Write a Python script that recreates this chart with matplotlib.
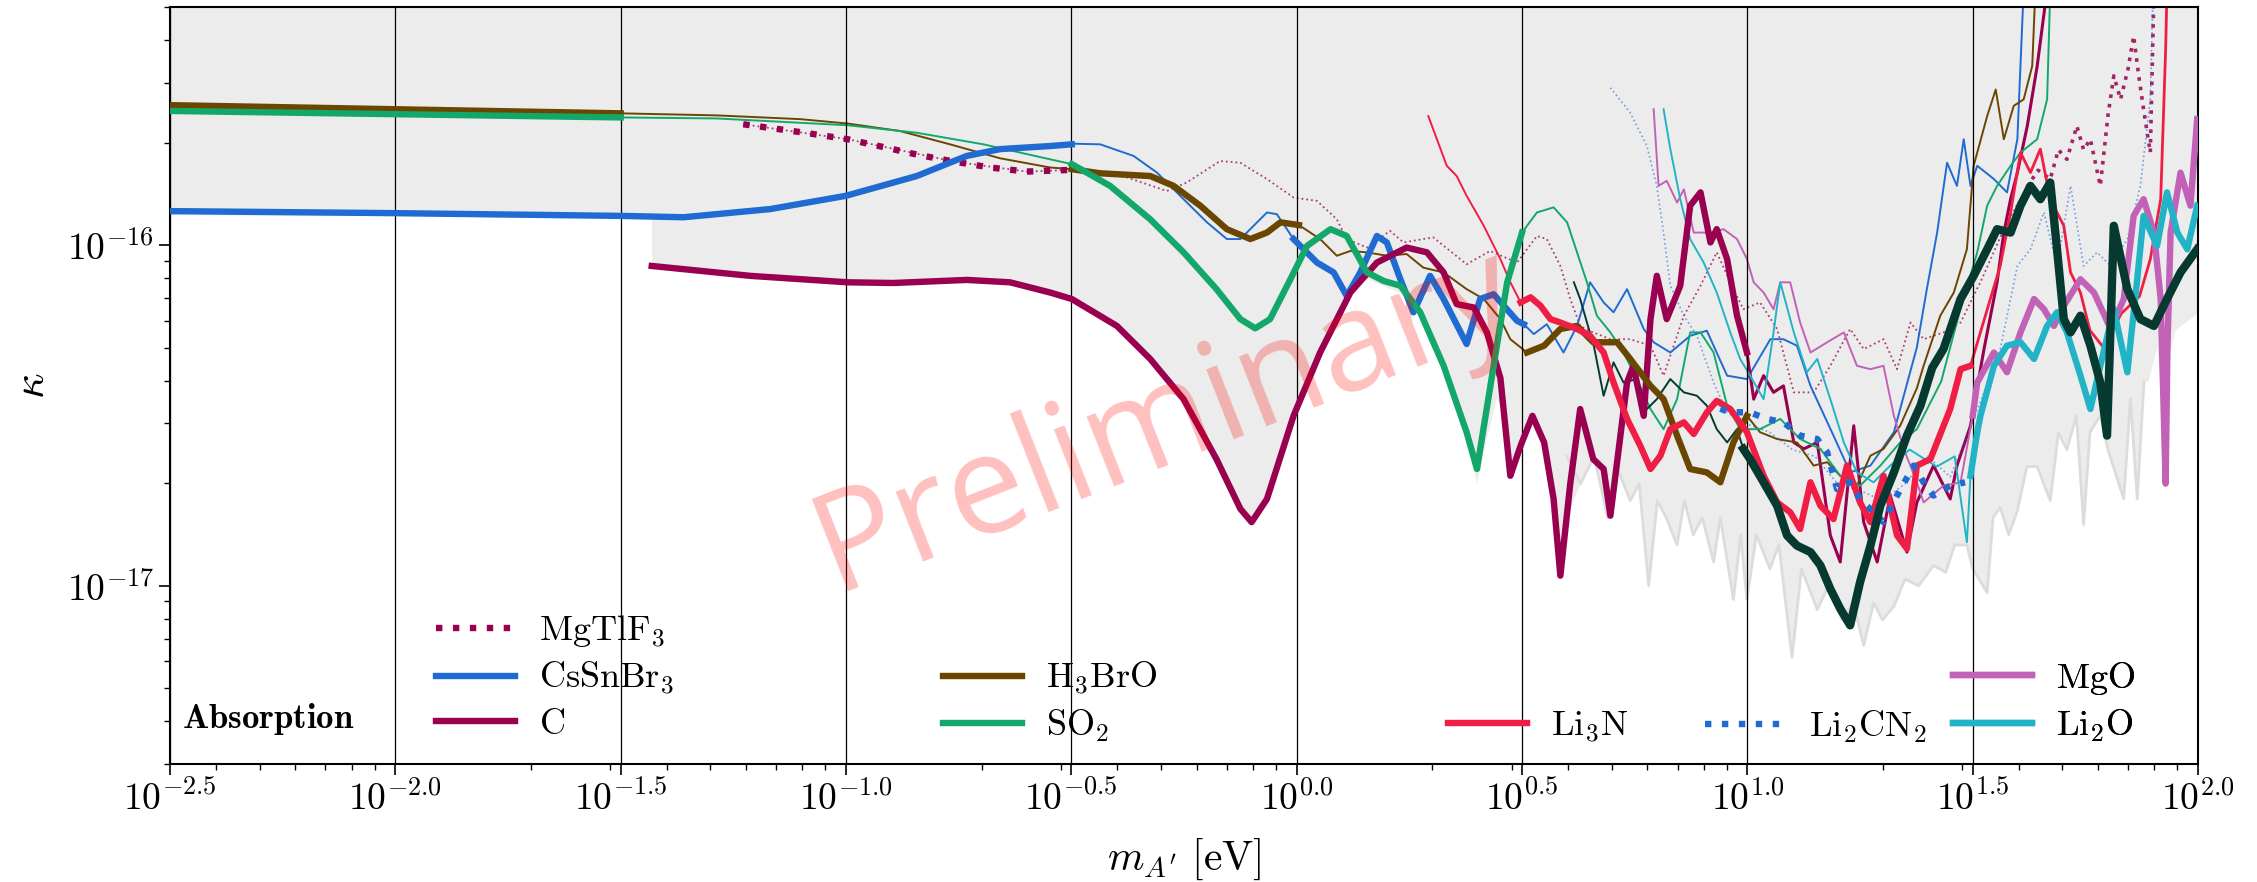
import numpy as np
import matplotlib
matplotlib.use("Agg")
import matplotlib.pyplot as plt
from matplotlib.ticker import NullFormatter

plt.rcParams['mathtext.fontset'] = 'cm'
plt.rcParams['font.family'] = 'serif'
plt.rcParams['font.serif'] = ['cmr10']
plt.rcParams['axes.formatter.use_mathtext'] = True
plt.rcParams['axes.unicode_minus'] = False

# all values are log10(m / eV) and log10(kappa)

# CsSnBr3
cs_a_lm = [-2.5, -2.0, -1.5, -1.36, -1.168, -1.0, -0.843, -0.732, -0.658, -0.547, -0.499]
cs_a_lk = [-15.900, -15.906, -15.914, -15.918, -15.894, -15.855, -15.797, -15.738, -15.718, -15.709, -15.704]
cs_b_lm = [-0.499, -0.436, -0.362, -0.310, -0.251, -0.199, -0.155, -0.125, -0.066, -0.044, -0.007]
cs_b_lk = [-15.702, -15.704, -15.738, -15.787, -15.865, -15.933, -15.982, -15.982, -15.904, -15.909, -15.982]
cs_c_lm = [-0.007, 0.045, 0.082, 0.111, 0.141, 0.178, 0.200, 0.230, 0.259, 0.296, 0.326, 0.377, 0.407,
           0.437, 0.489, 0.504]
cs_c_lk = [-15.982, -16.051, -16.080, -16.149, -16.080, -15.973, -15.992, -16.100, -16.197, -16.090, -16.158,
           -16.290, -16.158, -16.144, -16.222, -16.232]
cs_d_lm = [0.504, 0.526, 0.555, 0.592, 0.622, 0.651, 0.681, 0.703, 0.733, 0.770, 0.792, 0.829, 0.873, 0.910,
           0.955, 0.999, 1.051, 1.080, 1.110, 1.140, 1.191, 1.228, 1.273, 1.325, 1.376, 1.398, 1.421, 1.443,
           1.465, 1.480, 1.495, 1.510, 1.547, 1.576, 1.599, 1.613]
cs_d_lk = [-16.232, -16.261, -16.232, -16.315, -16.237, -16.109, -16.168, -16.197, -16.129, -16.246, -16.285,
           -16.315, -16.266, -16.251, -16.383, -16.393, -16.276, -16.276, -16.295, -16.413, -16.559, -16.667,
           -16.647, -16.549, -16.300, -16.130, -15.963, -15.758, -15.826, -15.689, -15.826, -15.767, -15.806,
           -15.845, -15.689, -15.25]

# C
c_a_lm = [-1.431, -1.213, -0.996, -0.895, -0.732, -0.636, -0.547, -0.499, -0.399, -0.325, -0.251, -0.178,
          -0.125, -0.100, -0.066, -0.007, 0.052, 0.119, 0.178, 0.244, 0.289, 0.326, 0.355, 0.393, 0.422,
          0.452, 0.474, 0.497, 0.523, 0.549, 0.570, 0.585, 0.607, 0.629, 0.658, 0.681, 0.696, 0.733, 0.747,
          0.770, 0.785, 0.799, 0.821, 0.851, 0.873, 0.896, 0.918, 0.932, 0.955, 0.977, 0.999]
c_a_lk = [-16.061, -16.090, -16.109, -16.111, -16.102, -16.109, -16.139, -16.158, -16.237, -16.334, -16.452,
          -16.628, -16.774, -16.813, -16.745, -16.501, -16.315, -16.139, -16.051, -16.007, -16.021, -16.080,
          -16.173, -16.183, -16.256, -16.390, -16.677, -16.588, -16.501, -16.579, -16.745, -16.970, -16.700,
          -16.481, -16.628, -16.657, -16.794, -16.403, -16.354, -16.501, -16.217, -16.090, -16.217, -16.119,
          -15.884, -15.845, -15.992, -15.953, -16.041, -16.207, -16.315]
c_b_lm = [0.999, 1.014, 1.036, 1.058, 1.080, 1.103, 1.125, 1.155, 1.184, 1.206, 1.236, 1.258, 1.288, 1.317,
          1.354, 1.376, 1.413, 1.450, 1.465, 1.495, 1.525, 1.554, 1.569, 1.584, 1.599, 1.621, 1.643, 1.665]
c_b_lk = [-16.315, -16.452, -16.383, -16.432, -16.413, -16.579, -16.598, -16.579, -16.852, -16.930, -16.530,
          -16.813, -16.930, -16.735, -16.901, -16.755, -16.647, -16.745, -16.647, -16.530, -16.305, -16.109,
          -15.963, -15.865, -15.787, -15.650, -15.474, -15.25]

# MgTlF3
mg_a_lm = [-1.228, -1.102, -0.996, -0.917, -0.836, -0.754, -0.680, -0.599, -0.562, -0.499]
mg_a_lk = [-15.645, -15.668, -15.689, -15.712, -15.736, -15.756, -15.772, -15.784, -15.782, -15.779]
mg_b_lm = [-1.228, -0.996, -0.754, -0.599, -0.499, -0.377, -0.288, -0.244, -0.170, -0.125, -0.066, -0.007,
           0.045, 0.089, 0.111, 0.156, 0.207, 0.237, 0.303, 0.377, 0.429, 0.489, 0.533, 0.555, 0.585, 0.607,
           0.629, 0.658, 0.696, 0.740, 0.785, 0.814, 0.859, 0.896, 0.932, 0.969, 0.991, 1.028, 1.066, 1.103,
           1.147, 1.184, 1.228, 1.258, 1.302, 1.332, 1.362, 1.391, 1.435, 1.473, 1.52, 1.57, 1.62]
mg_b_lk = [-15.645, -15.689, -15.756, -15.784, -15.779, -15.801, -15.841, -15.816, -15.753, -15.758, -15.806,
           -15.860, -15.870, -15.924, -15.982, -16.007, -15.958, -15.992, -15.977, -16.056, -16.017, -16.051,
           -15.973, -15.982, -16.061, -16.158, -16.237, -16.256, -16.276, -16.276, -16.295, -16.383, -16.207,
           -16.119, -16.021, -16.129, -16.188, -16.168, -16.246, -16.432, -16.432, -16.354, -16.246, -16.305,
           -16.276, -16.364, -16.227, -16.276, -16.256, -16.227, -16.10, -15.95, -15.83]
mg_c_lm = [1.62, 1.645, 1.672, 1.69, 1.709, 1.731, 1.746, 1.761, 1.783, 1.80, 1.813, 1.828, 1.845, 1.857,
           1.868, 1.879, 1.894, 1.902]
mg_c_lk = [-15.83, -15.78, -15.806, -15.72, -15.748, -15.650, -15.72, -15.689, -15.826, -15.62, -15.503,
           -15.572, -15.48, -15.386, -15.50, -15.601, -15.728, -15.25]

# H3BrO
hb_a_lm = [-2.5, -1.5]
hb_a_lk = [-15.589, -15.613]
hb_b_lm = [-1.5, -1.287, -1.102, -0.996, -0.880, -0.769, -0.658, -0.547, -0.499]
hb_b_lk = [-15.613, -15.619, -15.630, -15.643, -15.665, -15.704, -15.745, -15.772, -15.777]
hb_c_lm = [-0.499, -0.436, -0.325, -0.273, -0.214, -0.155, -0.103, -0.066, -0.036, 0.005]
hb_c_lk = [-15.777, -15.789, -15.797, -15.826, -15.884, -15.953, -15.982, -15.963, -15.933, -15.941]
hb_d_lm = [0.005, 0.052, 0.089, 0.119, 0.156, 0.200, 0.244, 0.281, 0.326, 0.377, 0.415, 0.452, 0.474, 0.511]
hb_d_lk = [-15.941, -15.982, -16.031, -16.017, -16.021, -16.031, -16.026, -16.066, -16.080, -16.129, -16.158,
           -16.217, -16.276, -16.315]
hb_e_lm = [0.511, 0.549, 0.585, 0.622, 0.658, 0.711, 0.740, 0.785, 0.814, 0.844, 0.873, 0.910, 0.940, 0.969,
           0.999]
hb_e_lk = [-16.315, -16.295, -16.246, -16.237, -16.285, -16.285, -16.334, -16.413, -16.452, -16.559, -16.657,
           -16.667, -16.696, -16.579, -16.501]
hb_f_lm = [0.999, 1.028, 1.066, 1.110, 1.147, 1.177, 1.206, 1.243, 1.273, 1.302, 1.339, 1.376, 1.391, 1.428,
           1.458, 1.487, 1.502, 1.532, 1.551, 1.569, 1.591, 1.613, 1.632, 1.639]
hb_f_lk = [-16.501, -16.549, -16.569, -16.579, -16.647, -16.637, -16.677, -16.706, -16.618, -16.598, -16.530,
           -16.420, -16.354, -16.207, -16.139, -16.012, -15.767, -15.621, -15.543, -15.689, -15.591, -15.572,
           -15.474, -15.25]

# SO2
so_a_lm = [-2.5, -1.5]
so_a_lk = [-15.606, -15.625]
so_b_lm = [-1.5, -1.287, -0.996, -0.843, -0.695, -0.547, -0.499]
so_b_lk = [-15.625, -15.628, -15.648, -15.670, -15.704, -15.748, -15.762]
so_c_lm = [-0.499, -0.414, -0.325, -0.251, -0.178, -0.125, -0.092, -0.059, -0.014, 0.023, 0.075, 0.111,
           0.156, 0.193, 0.230, 0.274, 0.326, 0.377, 0.400, 0.437, 0.467, 0.500]
so_c_lk = [-15.762, -15.826, -15.924, -16.021, -16.129, -16.217, -16.244, -16.217, -16.100, -16.002, -15.953,
           -15.973, -16.080, -16.105, -16.119, -16.197, -16.354, -16.549, -16.657, -16.354, -16.109, -15.963]
so_d_lm = [0.500, 0.533, 0.570, 0.600, 0.622, 0.644, 0.666, 0.696, 0.725, 0.755, 0.785, 0.814, 0.844, 0.873,
           0.896, 0.925, 0.955, 0.984, 1.028, 1.073, 1.117, 1.162, 1.206, 1.250, 1.295, 1.339, 1.376, 1.43,
           1.47, 1.510, 1.532, 1.554, 1.584, 1.606, 1.643, 1.665, 1.672]
so_d_lk = [-15.963, -15.904, -15.889, -15.933, -16.021, -16.109, -16.207, -16.256, -16.315, -16.393, -16.481,
           -16.540, -16.452, -16.256, -16.256, -16.315, -16.471, -16.540, -16.540, -16.510, -16.569, -16.598,
           -16.677, -16.706, -16.647, -16.579, -16.540, -16.40, -16.20, -16.021, -15.884, -15.826, -15.767,
           -15.728, -15.689, -15.572, -15.25]

# Li3N
ln_a_lm = [0.292, 0.333, 0.355, 0.377, 0.415, 0.452, 0.474, 0.497]
ln_a_lk = [-15.621, -15.767, -15.797, -15.855, -15.943, -16.041, -16.109, -16.168]
ln_b_lm = [0.497, 0.519, 0.541, 0.563, 0.585, 0.622, 0.651, 0.681, 0.703, 0.733, 0.762, 0.785, 0.807, 0.829,
           0.859, 0.881, 0.910, 0.932, 0.962, 0.999, 1.036, 1.066, 1.095, 1.117, 1.140, 1.162, 1.191, 1.221,
           1.250, 1.273, 1.302, 1.332, 1.354, 1.376, 1.406, 1.450, 1.473, 1.495]
ln_b_lk = [-16.168, -16.153, -16.178, -16.217, -16.227, -16.246, -16.266, -16.315, -16.403, -16.510, -16.588,
           -16.657, -16.618, -16.540, -16.520, -16.554, -16.491, -16.457, -16.481, -16.549, -16.677, -16.755,
           -16.784, -16.833, -16.696, -16.765, -16.804, -16.647, -16.755, -16.813, -16.677, -16.852, -16.891,
           -16.647, -16.628, -16.481, -16.364, -16.354]
ln_c_lm = [1.495, 1.539, 1.561, 1.584, 1.606, 1.628, 1.650, 1.672, 1.702, 1.717, 1.739, 1.76, 1.79, 1.83,
           1.87, 1.894, 1.917, 1.928, 1.931]
ln_c_lk = [-16.354, -16.158, -16.061, -15.904, -15.728, -15.787, -15.718, -15.865, -15.943, -16.080, -16.139,
           -16.25, -16.30, -16.20, -16.15, -16.041, -15.865, -15.425, -15.25]

# Li2CN2
lc_a_lm = [0.94, 0.96, 1.006, 1.043, 1.080, 1.117, 1.155, 1.177, 1.199, 1.228, 1.250, 1.280, 1.302, 1.332,
           1.369, 1.391, 1.413, 1.450, 1.483]
lc_a_lk = [-16.48, -16.49, -16.491, -16.510, -16.520, -16.559, -16.569, -16.608, -16.716, -16.696, -16.745,
           -16.784, -16.813, -16.735, -16.647, -16.696, -16.735, -16.706, -16.696]
lc_b_lm = [0.696, 0.740, 0.777, 0.799, 0.814, 0.829, 0.859, 0.888, 0.925, 0.955, 0.99, 1.05, 1.10, 1.15,
           1.20, 1.25, 1.30, 1.35, 1.40, 1.45, 1.52, 1.561, 1.599, 1.628, 1.658, 1.687, 1.717, 1.746, 1.776,
           1.806, 1.843, 1.872, 1.894, 1.90]
lc_b_lk = [-15.538, -15.611, -15.709, -15.826, -15.963, -16.119, -16.207, -16.266, -16.403, -16.491, -16.52,
           -16.55, -16.60, -16.62, -16.70, -16.72, -16.75, -16.70, -16.62, -16.68, -16.45, -16.305, -16.061,
           -16.012, -15.904, -16.061, -15.826, -16.061, -16.021, -16.061, -15.982, -15.826, -15.572, -15.25]

# MgO
mo_a_lm = [0.792, 0.803, 0.821, 0.844, 0.859, 0.881, 0.918, 0.947, 0.977, 0.999, 1.014, 1.036, 1.058, 1.073,
           1.095, 1.117, 1.140, 1.177, 1.214, 1.243, 1.273, 1.302, 1.325, 1.347, 1.376, 1.391, 1.435, 1.473,
           1.50]
mo_a_lk = [-15.601, -15.826, -15.811, -15.875, -15.836, -15.963, -15.963, -15.953, -15.982, -16.041, -16.109,
           -16.139, -16.188, -16.109, -16.109, -16.227, -16.315, -16.285, -16.256, -16.354, -16.364, -16.354,
           -16.501, -16.598, -16.696, -16.755, -16.706, -16.696, -16.50]
mo_b_lm = [1.50, 1.510, 1.547, 1.576, 1.606, 1.636, 1.658, 1.680, 1.702, 1.739, 1.769, 1.806, 1.835, 1.857,
           1.879, 1.902, 1.917, 1.928, 1.932, 1.939, 1.961, 1.983, 1.998]
mo_b_lk = [-16.50, -16.403, -16.315, -16.373, -16.256, -16.158, -16.188, -16.237, -16.178, -16.100, -16.139,
           -16.246, -16.158, -15.914, -15.865, -15.963, -16.158, -16.70, -16.30, -15.963, -15.787, -15.884,
           -15.630]

# Li2O
lo_a_lm = [0.814, 0.829, 0.851, 0.873, 0.903, 0.932, 0.962, 0.984, 1.006, 1.036, 1.058, 1.073, 1.103, 1.132,
           1.155, 1.184, 1.214, 1.243, 1.280, 1.317, 1.36, 1.42, 1.46, 1.487, 1.495]
lo_a_lk = [-15.601, -15.718, -15.865, -15.982, -16.051, -16.139, -16.256, -16.334, -16.383, -16.452, -16.256,
           -16.109, -16.256, -16.373, -16.334, -16.452, -16.579, -16.667, -16.696, -16.647, -16.60, -16.65,
           -16.62, -16.872, -16.677]
lo_b_lm = [1.495, 1.510, 1.517, 1.547, 1.576, 1.606, 1.636, 1.665, 1.687, 1.709, 1.739, 1.761, 1.783, 1.813,
           1.843, 1.865, 1.879, 1.909, 1.931, 1.954, 1.976, 1.998]
lo_b_lk = [-16.677, -16.549, -16.501, -16.354, -16.295, -16.285, -16.334, -16.237, -16.197, -16.256, -16.383,
           -16.481, -16.354, -16.188, -16.373, -16.100, -15.914, -16.002, -15.845, -15.963, -16.012, -15.884]

# unlabelled dark curve
dk_a_lm = [0.615, 0.629, 0.66, 0.681, 0.703, 0.725, 0.755, 0.777, 0.799, 0.829, 0.859, 0.888, 0.910, 0.932,
           0.955, 0.977, 0.991]
dk_a_lk = [-16.109, -16.158, -16.30, -16.442, -16.344, -16.403, -16.393, -16.481, -16.452, -16.393, -16.432,
           -16.442, -16.471, -16.540, -16.579, -16.540, -16.598]
dk_b_lm = [0.991, 1.006, 1.036, 1.066, 1.088, 1.110, 1.140, 1.162, 1.184, 1.206, 1.228, 1.250, 1.273, 1.295,
           1.325, 1.354, 1.384, 1.410, 1.435, 1.473, 1.502, 1.532, 1.554, 1.584, 1.606, 1.628, 1.650, 1.672,
           1.687, 1.702, 1.717, 1.739, 1.761, 1.783, 1.798, 1.813, 1.843, 1.872, 1.902, 1.931, 1.961, 1.998]
dk_b_lk = [-16.598, -16.628, -16.696, -16.765, -16.852, -16.882, -16.901, -16.940, -17.009, -17.067, -17.116,
           -16.989, -16.882, -16.765, -16.667, -16.559, -16.471, -16.36, -16.305, -16.158, -16.090, -16.012,
           -15.953, -15.963, -15.884, -15.826, -15.865, -15.816, -16.012, -16.217, -16.256, -16.207, -16.295,
           -16.403, -16.559, -15.943, -16.129, -16.217, -16.237, -16.158, -16.080, -16.012]

# light grey floor curve
fl_lm = [0.60, 0.63, 0.66, 0.69, 0.71, 0.74, 0.76, 0.781, 0.80, 0.82, 0.844, 0.86, 0.88, 0.90, 0.925, 0.94,
         0.969, 0.985, 0.999, 1.02, 1.05, 1.07, 1.099, 1.12, 1.155, 1.18, 1.21, 1.235, 1.258, 1.28, 1.30, 1.325,
         1.35, 1.38, 1.413, 1.44, 1.46, 1.487, 1.50, 1.532, 1.545, 1.561, 1.58, 1.599, 1.62, 1.643, 1.672, 1.69,
         1.709, 1.73, 1.746, 1.76, 1.783, 1.80, 1.835, 1.85, 1.865, 1.88]
fl_lk = [-16.62, -16.70, -16.62, -16.80, -16.65, -16.75, -16.70, -17.00, -16.75, -16.80, -16.88, -16.75, -16.85,
         -16.80, -16.93, -16.80, -17.04, -16.85, -17.04, -16.85, -16.95, -16.88, -17.21, -16.95, -17.07, -17.00,
         -17.10, -17.05, -17.175, -17.05, -17.10, -17.06, -16.98, -17.00, -16.94, -16.96, -16.88, -16.88, -16.95,
         -17.02, -16.80, -16.77, -16.85, -16.78, -16.65, -16.65, -16.75, -16.55, -16.60, -16.50, -16.82, -16.55,
         -16.50, -16.60, -16.745, -16.45, -16.745, -16.40]

# lower edge of the shaded region
sh_lm = [-2.5, -1.43, -1.43, -1.213, -0.996, -0.895, -0.732, -0.636, -0.547, -0.499, -0.399, -0.325, -0.251,
         -0.178, -0.125, -0.100, -0.066, -0.007, 0.052, 0.100, 0.13, 0.156, 0.193, 0.230, 0.274, 0.326, 0.377,
         0.400, 0.422, 0.444, 0.46, 0.474, 0.497, 0.523, 0.549, 0.570, 0.585, 0.60] + fl_lm[1:] + \
        [1.89, 1.91, 1.925, 1.928, 1.932, 1.95, 2.0]
sh_lk = [-15.912, -15.918, -16.061, -16.090, -16.109, -16.111, -16.102, -16.109, -16.139, -16.158, -16.237,
         -16.334, -16.452, -16.628, -16.774, -16.813, -16.745, -16.501, -16.315, -16.17, -16.11, -16.10, -16.12,
         -16.14, -16.21, -16.37, -16.57, -16.70, -16.57, -16.45, -16.50, -16.68, -16.59, -16.51, -16.59, -16.75,
         -16.98, -16.80] + fl_lk[1:] + [-16.40, -16.30, -16.50, -16.72, -16.35, -16.25, -16.20]

xtick_exp = ['-2.5', '-2.0', '-1.5', '-1.0', '-0.5', '0.0', '0.5', '1.0', '1.5', '2.0']


def pts(lm, lk):
    return 10.0 ** np.asarray(lm), 10.0 ** np.asarray(lk)


c_col = '#990050'
cs_col = '#1f6bd1'
hb_col = '#6b4600'
so_col = '#13a86a'
ln_col = '#f01e44'
mo_col = '#c262b6'
lo_col = '#22b4c6'
dk_col = '#063a30'
TH, TN = 4.6, 1.4

fig = plt.figure(figsize=(22.57, 8.82), dpi=100)
ax = fig.add_axes([0.0753, 0.1338, 0.8986, 0.8582])
ax.set_xscale('log')
ax.set_yscale('log')
ax.set_xlim(10 ** -2.5, 10 ** 2.0)
ax.set_ylim(3.0e-18, 5.0e-16)

sx, sy = pts(sh_lm, sh_lk)
ax.fill_between(sx, sy, 1e-14, color='#ececec', lw=0, zorder=0)
ax.plot(*pts(fl_lm, fl_lk), color='#dcdcdc', lw=2.0, zorder=1)

# thin parts
ax.plot(*pts(mg_b_lm, mg_b_lk), color=c_col, lw=1.3, ls=':', alpha=0.75, zorder=2)
ax.plot(*pts(mg_c_lm, mg_c_lk), color=c_col, lw=2.6, ls=':', alpha=0.85, zorder=2)
ax.plot(*pts(cs_b_lm, cs_b_lk), color=cs_col, lw=TN, zorder=2)
ax.plot(*pts(cs_d_lm, cs_d_lk), color=cs_col, lw=TN, zorder=2)
ax.plot(*pts(c_b_lm, c_b_lk), color=c_col, lw=2.2, zorder=2)
ax.plot(*pts(hb_b_lm, hb_b_lk), color=hb_col, lw=TN, zorder=2)
ax.plot(*pts(hb_d_lm, hb_d_lk), color=hb_col, lw=TN, zorder=2)
ax.plot(*pts(hb_f_lm, hb_f_lk), color=hb_col, lw=TN, zorder=2)
ax.plot(*pts(so_b_lm, so_b_lk), color=so_col, lw=TN, zorder=2)
ax.plot(*pts(so_d_lm, so_d_lk), color=so_col, lw=TN, zorder=2)
ax.plot(*pts(ln_a_lm, ln_a_lk), color=ln_col, lw=TN, zorder=2)
ax.plot(*pts(ln_c_lm, ln_c_lk), color=ln_col, lw=2.0, zorder=2)
ax.plot(*pts(lc_b_lm, lc_b_lk), color=cs_col, lw=1.2, ls=':', alpha=0.6, zorder=2)
ax.plot(*pts(mo_a_lm, mo_a_lk), color=mo_col, lw=TN, zorder=2)
ax.plot(*pts(lo_a_lm, lo_a_lk), color=lo_col, lw=TN, zorder=2)
ax.plot(*pts(dk_a_lm, dk_a_lk), color=dk_col, lw=TN, zorder=2)

# thick parts
h_mg, = ax.plot(*pts(mg_a_lm, mg_a_lk), color=c_col, lw=TH, ls=':', zorder=3)
h_cs, = ax.plot(*pts(cs_a_lm, cs_a_lk), color=cs_col, lw=TH, zorder=3)
ax.plot(*pts(cs_c_lm, cs_c_lk), color=cs_col, lw=TH, zorder=3)
h_c, = ax.plot(*pts(c_a_lm, c_a_lk), color=c_col, lw=TH, zorder=3)
h_hb, = ax.plot(*pts(hb_a_lm, hb_a_lk), color=hb_col, lw=TH, zorder=3)
ax.plot(*pts(hb_c_lm, hb_c_lk), color=hb_col, lw=TH, zorder=3)
ax.plot(*pts(hb_e_lm, hb_e_lk), color=hb_col, lw=TH, zorder=3)
h_so, = ax.plot(*pts(so_a_lm, so_a_lk), color=so_col, lw=TH, zorder=3)
ax.plot(*pts(so_c_lm, so_c_lk), color=so_col, lw=TH, zorder=3)
h_ln, = ax.plot(*pts(ln_b_lm, ln_b_lk), color=ln_col, lw=TH, zorder=3)
h_lc, = ax.plot(*pts(lc_a_lm, lc_a_lk), color=cs_col, lw=TH, ls=':', zorder=3)
h_mo, = ax.plot(*pts(mo_b_lm, mo_b_lk), color=mo_col, lw=TH, zorder=3)
h_lo, = ax.plot(*pts(lo_b_lm, lo_b_lk), color=lo_col, lw=TH, zorder=3)
ax.plot(*pts(dk_b_lm, dk_b_lk), color=dk_col, lw=6.0, zorder=4)

ax.set_xticks([10 ** float(e) for e in xtick_exp])
ax.set_xticklabels([r'$10^{%s}$' % e for e in xtick_exp])
ax.xaxis.set_minor_formatter(NullFormatter())
ax.yaxis.set_minor_formatter(NullFormatter())
ax.set_yticks([1e-17, 1e-16])
ax.set_yticklabels([r'$10^{-17}$', r'$10^{-16}$'])
ax.tick_params(which='major', direction='out', length=8, width=1.2, labelsize=27)
ax.tick_params(which='minor', direction='out', length=4, width=1.0)
ax.grid(True, which='major', axis='x', color='k', lw=0.9)
ax.set_axisbelow(False)
for s in ax.spines.values():
    s.set_linewidth(1.5)

ax.set_xlabel(r'$m_{A^\prime}\ [\mathrm{eV}]$', fontsize=30, labelpad=14)
ax.set_ylabel(r'$\kappa$', fontsize=32, labelpad=10)

kw = dict(frameon=False, fontsize=26, handlelength=2.2, handletextpad=0.67, labelspacing=0.3,
          borderpad=0, borderaxespad=0, loc='center left')
legs = [
    ([h_mg, h_cs, h_c], [r'$\mathrm{MgTlF_3}$', r'$\mathrm{CsSnBr_3}$', r'$\mathrm{C}$'], (0.131, 0.115)),
    ([h_hb, h_so], [r'$\mathrm{H_3BrO}$', r'$\mathrm{SO_2}$'], (0.381, 0.082)),
    ([h_ln], [r'$\mathrm{Li_3N}$'], (0.630, 0.049)),
    ([h_lc], [r'$\mathrm{Li_2CN_2}$'], (0.757, 0.049)),
    ([h_mo, h_lo], [r'$\mathrm{MgO}$', r'$\mathrm{Li_2O}$'], (0.879, 0.082)),
]
for hs, labs, anc in legs:
    lg = ax.legend(hs, labs, bbox_to_anchor=anc, **kw)
    ax.add_artist(lg)

ax.text(0.006, 0.06, r'$\mathbf{Absorption}$', transform=ax.transAxes, fontsize=25,
        ha='left', va='center')
ax.text(0.491, 0.453, 'Preliminary', transform=ax.transAxes, fontsize=100, family='Open Sans',
        color='red', alpha=0.25, rotation=21.5, ha='center', va='center', zorder=6)

fig.savefig('out.png', dpi=100)
